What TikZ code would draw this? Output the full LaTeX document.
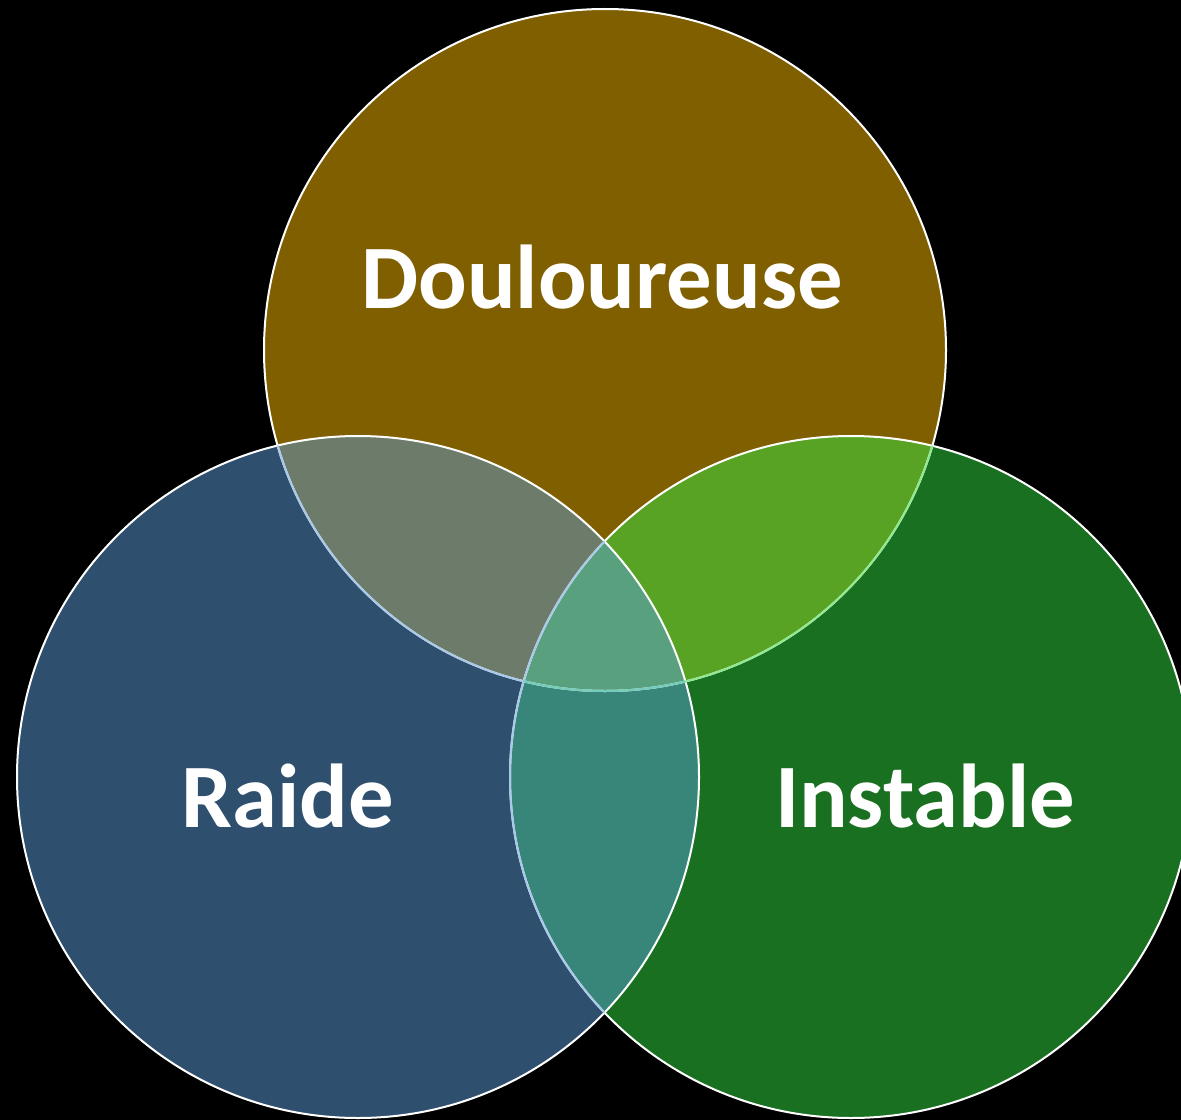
\documentclass[tikz,border=0pt]{standalone}
\usepackage{fontspec}
\setmainfont{Carlito}

\definecolor{dfill}{HTML}{7F5F00}
\definecolor{rfill}{HTML}{2F4F6E}
\definecolor{ifill}{HTML}{1A7021}
\definecolor{drfill}{HTML}{6D7C6A}
\definecolor{difill}{HTML}{58A324}
\definecolor{rifill}{HTML}{38857A}
\definecolor{drifill}{HTML}{58A07E}
\definecolor{edgeblue}{HTML}{A9C9EA}
\definecolor{edgegreen}{HTML}{8FEA8F}
\definecolor{edgeteal}{HTML}{74CDBA}

\tikzset{
  ring/.style={draw=white, line width=1.5pt},
  label/.style={text=white, font=\fontsize{68}{68}\selectfont\bfseries, inner sep=0pt, anchor=base}
}

\begin{document}
\begin{tikzpicture}[x=0.75pt,y=0.75pt]
        \useasboundingbox (0,0) rectangle (1181,-1120);
        \fill[black] (0,0) rectangle (1181,-1120);
        \clip (0,0) rectangle (1181,-1120);
        \def\rad{341}
        \coordinate (d) at (605,-350);
        \coordinate (r) at (358,-777);
        \coordinate (i) at (851,-777);
        % circles
        \fill[dfill] (d) circle[radius=\rad];
        \fill[rfill] (r) circle[radius=\rad];
        \fill[ifill] (i) circle[radius=\rad];
        % overlaps
        \begin{scope}
            \clip (r) circle[radius=\rad];
            \fill[rifill] (i) circle[radius=\rad];
        \end{scope}
        \begin{scope}
            \clip (d) circle[radius=\rad];
            \fill[drfill] (r) circle[radius=\rad];
            \fill[difill] (i) circle[radius=\rad];
            \clip (r) circle[radius=\rad];
            \fill[drifill] (i) circle[radius=\rad];
        \end{scope}
        % outlines
        \draw[ring] (d) circle[radius=\rad];
        \draw[ring] (i) circle[radius=\rad];
        \draw[ring] (r) circle[radius=\rad];
        \begin{scope}
            \clip (i) circle[radius=\rad];
            \draw[ring, draw=edgegreen] (d) circle[radius=\rad];
        \end{scope}
        \begin{scope}
            \clip (r) circle[radius=\rad];
            \draw[ring, draw=edgeblue] (d) circle[radius=\rad];
            \draw[ring, draw=edgeblue] (i) circle[radius=\rad];
            \clip (i) circle[radius=\rad];
            \draw[ring, draw=edgeteal] (d) circle[radius=\rad];
        \end{scope}
        % labels
        \node[label] (doul) at (602,-308) {Douloureuse};
        \node[label] (raid) at (288,-827) {Raide};
        \node[label] (inst) at (925,-827) {Instable};
\end{tikzpicture}
\end{document}
